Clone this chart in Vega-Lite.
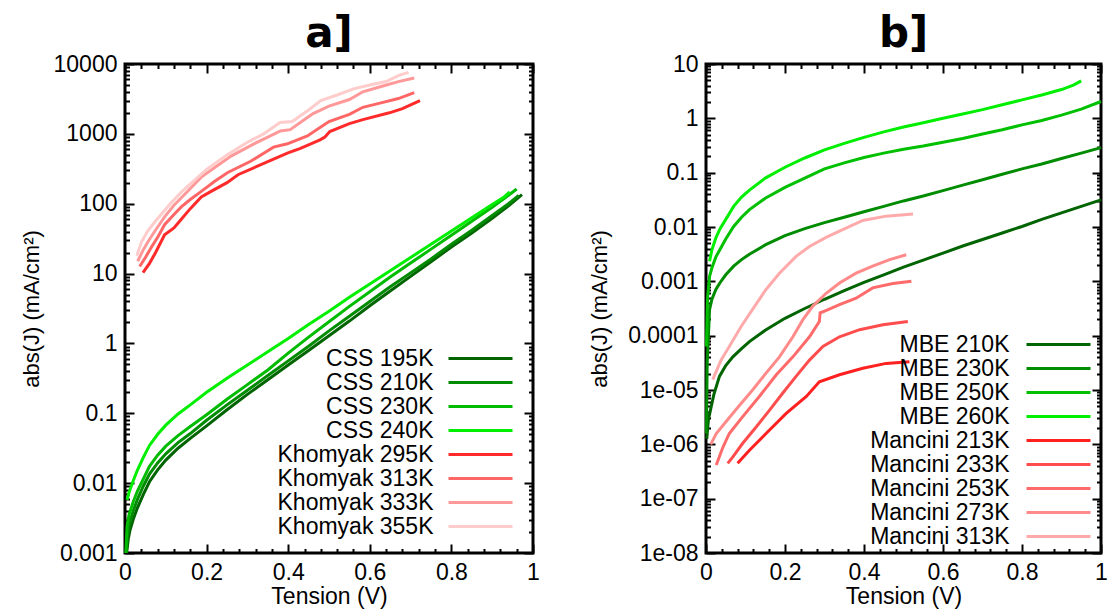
{
  "$schema": "https://vega.github.io/schema/vega-lite/v6.json",
  "padding": {"left": 18, "top": 11, "right": 5, "bottom": 5},
  "spacing": 46,
  "resolve": {"scale": {"color": "independent"}, "legend": {"color": "independent"}},
  "config": {
    "font": "Liberation Sans",
    "view": {"stroke": "black", "strokeWidth": 3},
    "axis": {"grid": false, "domain": false, "labelFont": "Liberation Sans", "labelFontSize": 23, "labelColor": "black", "titleFont": "Liberation Sans", "titleFontSize": 23, "titleFontWeight": "normal", "titleColor": "black", "tickColor": "black", "tickWidth": 2, "labelFlush": false, "labelOverlap": false},
    "title": {"font": "DejaVu Sans", "fontSize": 42, "fontWeight": "bold", "color": "black", "anchor": "middle", "frame": "group", "offset": -3}
  },
  "datasets": {
    "left": [
      {"s":"CSS 195K","v":0.004,"j":0.001},{"s":"CSS 195K","v":0.008,"j":0.001585},{"s":"CSS 195K","v":0.012,"j":0.002089},{"s":"CSS 195K","v":0.02,"j":0.00302},{"s":"CSS 195K","v":0.03,"j":0.004365},{"s":"CSS 195K","v":0.045,"j":0.006918},{"s":"CSS 195K","v":0.06,"j":0.01047},{"s":"CSS 195K","v":0.08,"j":0.01549},{"s":"CSS 195K","v":0.1,"j":0.02138},{"s":"CSS 195K","v":0.13,"j":0.03162},{"s":"CSS 195K","v":0.16,"j":0.04365},{"s":"CSS 195K","v":0.2,"j":0.06607},{"s":"CSS 195K","v":0.25,"j":0.1122},{"s":"CSS 195K","v":0.3,"j":0.1862},{"s":"CSS 195K","v":0.35,"j":0.302},{"s":"CSS 195K","v":0.4,"j":0.4898},{"s":"CSS 195K","v":0.45,"j":0.7943},{"s":"CSS 195K","v":0.5,"j":1.288},{"s":"CSS 195K","v":0.55,"j":2.089},{"s":"CSS 195K","v":0.6,"j":3.467},{"s":"CSS 195K","v":0.65,"j":5.623},{"s":"CSS 195K","v":0.7,"j":9.12},{"s":"CSS 195K","v":0.75,"j":14.79},{"s":"CSS 195K","v":0.8,"j":23.99},{"s":"CSS 195K","v":0.85,"j":38.02},{"s":"CSS 195K","v":0.9,"j":61.66},{"s":"CSS 195K","v":0.94,"j":93.33},{"s":"CSS 195K","v":0.973,"j":134.9},
      {"s":"CSS 210K","v":0.003,"j":0.001},{"s":"CSS 210K","v":0.006,"j":0.001778},{"s":"CSS 210K","v":0.01,"j":0.002512},{"s":"CSS 210K","v":0.02,"j":0.003981},{"s":"CSS 210K","v":0.03,"j":0.005754},{"s":"CSS 210K","v":0.045,"j":0.00912},{"s":"CSS 210K","v":0.06,"j":0.01349},{"s":"CSS 210K","v":0.08,"j":0.0195},{"s":"CSS 210K","v":0.1,"j":0.0263},{"s":"CSS 210K","v":0.13,"j":0.03802},{"s":"CSS 210K","v":0.16,"j":0.05129},{"s":"CSS 210K","v":0.2,"j":0.07943},{"s":"CSS 210K","v":0.25,"j":0.1318},{"s":"CSS 210K","v":0.3,"j":0.2138},{"s":"CSS 210K","v":0.35,"j":0.3467},{"s":"CSS 210K","v":0.4,"j":0.5623},{"s":"CSS 210K","v":0.45,"j":0.912},{"s":"CSS 210K","v":0.5,"j":1.514},{"s":"CSS 210K","v":0.55,"j":2.455},{"s":"CSS 210K","v":0.6,"j":3.981},{"s":"CSS 210K","v":0.65,"j":6.457},{"s":"CSS 210K","v":0.7,"j":10.23},{"s":"CSS 210K","v":0.75,"j":16.22},{"s":"CSS 210K","v":0.8,"j":26.3},{"s":"CSS 210K","v":0.85,"j":41.69},{"s":"CSS 210K","v":0.9,"j":67.61},{"s":"CSS 210K","v":0.94,"j":100},{"s":"CSS 210K","v":0.965,"j":131.8},
      {"s":"CSS 230K","v":0.002,"j":0.001},{"s":"CSS 230K","v":0.005,"j":0.0024},{"s":"CSS 230K","v":0.01,"j":0.003548},{"s":"CSS 230K","v":0.02,"j":0.00537},{"s":"CSS 230K","v":0.03,"j":0.007586},{"s":"CSS 230K","v":0.045,"j":0.01148},{"s":"CSS 230K","v":0.06,"j":0.01738},{"s":"CSS 230K","v":0.08,"j":0.02512},{"s":"CSS 230K","v":0.1,"j":0.03388},{"s":"CSS 230K","v":0.13,"j":0.04786},{"s":"CSS 230K","v":0.16,"j":0.06457},{"s":"CSS 230K","v":0.2,"j":0.0955},{"s":"CSS 230K","v":0.25,"j":0.1585},{"s":"CSS 230K","v":0.3,"j":0.257},{"s":"CSS 230K","v":0.35,"j":0.4169},{"s":"CSS 230K","v":0.4,"j":0.7244},{"s":"CSS 230K","v":0.45,"j":1.23},{"s":"CSS 230K","v":0.5,"j":2.042},{"s":"CSS 230K","v":0.55,"j":3.388},{"s":"CSS 230K","v":0.6,"j":5.495},{"s":"CSS 230K","v":0.65,"j":8.913},{"s":"CSS 230K","v":0.7,"j":14.13},{"s":"CSS 230K","v":0.75,"j":22.39},{"s":"CSS 230K","v":0.8,"j":35.48},{"s":"CSS 230K","v":0.85,"j":56.23},{"s":"CSS 230K","v":0.9,"j":89.13},{"s":"CSS 230K","v":0.94,"j":131.8},{"s":"CSS 230K","v":0.96,"j":162.2},
      {"s":"CSS 240K","v":0.005,"j":0.00575},{"s":"CSS 240K","v":0.01,"j":0.00741},{"s":"CSS 240K","v":0.02,"j":0.01072},{"s":"CSS 240K","v":0.03,"j":0.01514},{"s":"CSS 240K","v":0.045,"j":0.02344},{"s":"CSS 240K","v":0.06,"j":0.03467},{"s":"CSS 240K","v":0.08,"j":0.05012},{"s":"CSS 240K","v":0.1,"j":0.06761},{"s":"CSS 240K","v":0.13,"j":0.09772},{"s":"CSS 240K","v":0.16,"j":0.1318},{"s":"CSS 240K","v":0.2,"j":0.1995},{"s":"CSS 240K","v":0.25,"j":0.3162},{"s":"CSS 240K","v":0.3,"j":0.4898},{"s":"CSS 240K","v":0.35,"j":0.7586},{"s":"CSS 240K","v":0.4,"j":1.175},{"s":"CSS 240K","v":0.45,"j":1.862},{"s":"CSS 240K","v":0.5,"j":2.884},{"s":"CSS 240K","v":0.55,"j":4.571},{"s":"CSS 240K","v":0.6,"j":7.079},{"s":"CSS 240K","v":0.65,"j":10.96},{"s":"CSS 240K","v":0.7,"j":16.98},{"s":"CSS 240K","v":0.75,"j":26.3},{"s":"CSS 240K","v":0.8,"j":40.74},{"s":"CSS 240K","v":0.85,"j":63.1},{"s":"CSS 240K","v":0.9,"j":97.72},{"s":"CSS 240K","v":0.93,"j":125.9},{"s":"CSS 240K","v":0.943,"j":147.9},
      {"s":"Khomyak 295K","v":0.044,"j":10.3},{"s":"Khomyak 295K","v":0.06,"j":14},{"s":"Khomyak 295K","v":0.075,"j":20},{"s":"Khomyak 295K","v":0.097,"j":36},{"s":"Khomyak 295K","v":0.12,"j":45},{"s":"Khomyak 295K","v":0.138,"j":60},{"s":"Khomyak 295K","v":0.16,"j":85},{"s":"Khomyak 295K","v":0.187,"j":125},{"s":"Khomyak 295K","v":0.211,"j":150},{"s":"Khomyak 295K","v":0.25,"j":200},{"s":"Khomyak 295K","v":0.277,"j":260},{"s":"Khomyak 295K","v":0.35,"j":400},{"s":"Khomyak 295K","v":0.398,"j":530},{"s":"Khomyak 295K","v":0.43,"j":620},{"s":"Khomyak 295K","v":0.478,"j":820},{"s":"Khomyak 295K","v":0.49,"j":900},{"s":"Khomyak 295K","v":0.502,"j":1080},{"s":"Khomyak 295K","v":0.55,"j":1400},{"s":"Khomyak 295K","v":0.583,"j":1600},{"s":"Khomyak 295K","v":0.648,"j":2000},{"s":"Khomyak 295K","v":0.68,"j":2300},{"s":"Khomyak 295K","v":0.723,"j":3000},
      {"s":"Khomyak 313K","v":0.036,"j":12.6},{"s":"Khomyak 313K","v":0.05,"j":17},{"s":"Khomyak 313K","v":0.065,"j":24},{"s":"Khomyak 313K","v":0.08,"j":33},{"s":"Khomyak 313K","v":0.097,"j":50},{"s":"Khomyak 313K","v":0.12,"j":70},{"s":"Khomyak 313K","v":0.138,"j":90},{"s":"Khomyak 313K","v":0.16,"j":115},{"s":"Khomyak 313K","v":0.187,"j":150},{"s":"Khomyak 313K","v":0.22,"j":210},{"s":"Khomyak 313K","v":0.252,"j":280},{"s":"Khomyak 313K","v":0.308,"j":405},{"s":"Khomyak 313K","v":0.364,"j":645},{"s":"Khomyak 313K","v":0.398,"j":720},{"s":"Khomyak 313K","v":0.447,"j":935},{"s":"Khomyak 313K","v":0.5,"j":1500},{"s":"Khomyak 313K","v":0.55,"j":1900},{"s":"Khomyak 313K","v":0.583,"j":2400},{"s":"Khomyak 313K","v":0.63,"j":2800},{"s":"Khomyak 313K","v":0.67,"j":3200},{"s":"Khomyak 313K","v":0.709,"j":3900},
      {"s":"Khomyak 333K","v":0.031,"j":15},{"s":"Khomyak 333K","v":0.045,"j":22},{"s":"Khomyak 333K","v":0.057,"j":29},{"s":"Khomyak 333K","v":0.075,"j":42},{"s":"Khomyak 333K","v":0.097,"j":65},{"s":"Khomyak 333K","v":0.12,"j":95},{"s":"Khomyak 333K","v":0.14,"j":125},{"s":"Khomyak 333K","v":0.187,"j":240},{"s":"Khomyak 333K","v":0.22,"j":330},{"s":"Khomyak 333K","v":0.26,"j":480},{"s":"Khomyak 333K","v":0.316,"j":720},{"s":"Khomyak 333K","v":0.35,"j":900},{"s":"Khomyak 333K","v":0.381,"j":1100},{"s":"Khomyak 333K","v":0.405,"j":1150},{"s":"Khomyak 333K","v":0.44,"j":1600},{"s":"Khomyak 333K","v":0.461,"j":1950},{"s":"Khomyak 333K","v":0.5,"j":2500},{"s":"Khomyak 333K","v":0.55,"j":3100},{"s":"Khomyak 333K","v":0.583,"j":4000},{"s":"Khomyak 333K","v":0.63,"j":4800},{"s":"Khomyak 333K","v":0.67,"j":5600},{"s":"Khomyak 333K","v":0.709,"j":6300},
      {"s":"Khomyak 355K","v":0.029,"j":18},{"s":"Khomyak 355K","v":0.04,"j":28},{"s":"Khomyak 355K","v":0.055,"j":40},{"s":"Khomyak 355K","v":0.07,"j":52},{"s":"Khomyak 355K","v":0.09,"j":72},{"s":"Khomyak 355K","v":0.11,"j":98},{"s":"Khomyak 355K","v":0.14,"j":150},{"s":"Khomyak 355K","v":0.17,"j":215},{"s":"Khomyak 355K","v":0.2,"j":310},{"s":"Khomyak 355K","v":0.25,"j":500},{"s":"Khomyak 355K","v":0.3,"j":760},{"s":"Khomyak 355K","v":0.34,"j":1000},{"s":"Khomyak 355K","v":0.38,"j":1450},{"s":"Khomyak 355K","v":0.41,"j":1500},{"s":"Khomyak 355K","v":0.45,"j":2200},{"s":"Khomyak 355K","v":0.48,"j":3000},{"s":"Khomyak 355K","v":0.52,"j":3600},{"s":"Khomyak 355K","v":0.56,"j":4400},{"s":"Khomyak 355K","v":0.6,"j":5000},{"s":"Khomyak 355K","v":0.64,"j":5600},{"s":"Khomyak 355K","v":0.67,"j":6800},{"s":"Khomyak 355K","v":0.695,"j":7600}
    ],
    "right": [
      {"s":"MBE 210K","v":0.002,"j":1.259e-6},{"s":"MBE 210K","v":0.006,"j":2.818e-6},{"s":"MBE 210K","v":0.013,"j":4.898e-6},{"s":"MBE 210K","v":0.02,"j":8.318e-6},{"s":"MBE 210K","v":0.034,"j":1.778e-5},{"s":"MBE 210K","v":0.05,"j":2.818e-5},{"s":"MBE 210K","v":0.068,"j":4.074e-5},{"s":"MBE 210K","v":0.09,"j":5.754e-5},{"s":"MBE 210K","v":0.11,"j":7.762e-5},{"s":"MBE 210K","v":0.15,"j":1.259e-4},{"s":"MBE 210K","v":0.2,"j":2.089e-4},{"s":"MBE 210K","v":0.25,"j":3.162e-4},{"s":"MBE 210K","v":0.3,"j":4.677e-4},{"s":"MBE 210K","v":0.35,"j":6.761e-4},{"s":"MBE 210K","v":0.4,"j":9.55e-4},{"s":"MBE 210K","v":0.45,"j":0.001318},{"s":"MBE 210K","v":0.5,"j":0.00182},{"s":"MBE 210K","v":0.55,"j":0.002455},{"s":"MBE 210K","v":0.6,"j":0.003311},{"s":"MBE 210K","v":0.65,"j":0.004467},{"s":"MBE 210K","v":0.7,"j":0.005888},{"s":"MBE 210K","v":0.75,"j":0.007762},{"s":"MBE 210K","v":0.8,"j":0.01023},{"s":"MBE 210K","v":0.85,"j":0.0138},{"s":"MBE 210K","v":0.9,"j":0.0182},{"s":"MBE 210K","v":0.95,"j":0.02399},{"s":"MBE 210K","v":1.0,"j":0.03162},
      {"s":"MBE 230K","v":0.001,"j":1.585e-6},{"s":"MBE 230K","v":0.003,"j":3.162e-5},{"s":"MBE 230K","v":0.009,"j":3.02e-4},{"s":"MBE 230K","v":0.015,"j":4.677e-4},{"s":"MBE 230K","v":0.025,"j":7.079e-4},{"s":"MBE 230K","v":0.035,"j":9.333e-4},{"s":"MBE 230K","v":0.05,"j":0.001318},{"s":"MBE 230K","v":0.07,"j":0.001905},{"s":"MBE 230K","v":0.09,"j":0.002512},{"s":"MBE 230K","v":0.11,"j":0.003162},{"s":"MBE 230K","v":0.15,"j":0.004677},{"s":"MBE 230K","v":0.2,"j":0.006918},{"s":"MBE 230K","v":0.25,"j":0.009333},{"s":"MBE 230K","v":0.3,"j":0.01202},{"s":"MBE 230K","v":0.35,"j":0.01514},{"s":"MBE 230K","v":0.4,"j":0.01905},{"s":"MBE 230K","v":0.45,"j":0.02399},{"s":"MBE 230K","v":0.5,"j":0.0302},{"s":"MBE 230K","v":0.55,"j":0.03715},{"s":"MBE 230K","v":0.6,"j":0.04677},{"s":"MBE 230K","v":0.65,"j":0.05888},{"s":"MBE 230K","v":0.7,"j":0.07413},{"s":"MBE 230K","v":0.75,"j":0.09333},{"s":"MBE 230K","v":0.8,"j":0.1175},{"s":"MBE 230K","v":0.85,"j":0.1445},{"s":"MBE 230K","v":0.9,"j":0.182},{"s":"MBE 230K","v":0.95,"j":0.2291},{"s":"MBE 230K","v":1.0,"j":0.2884},
      {"s":"MBE 250K","v":0.001,"j":6.31e-5},{"s":"MBE 250K","v":0.004,"j":5.01e-4},{"s":"MBE 250K","v":0.009,"j":0.00123},{"s":"MBE 250K","v":0.015,"j":0.001778},{"s":"MBE 250K","v":0.025,"j":0.002818},{"s":"MBE 250K","v":0.035,"j":0.003802},{"s":"MBE 250K","v":0.05,"j":0.006026},{"s":"MBE 250K","v":0.07,"j":0.01023},{"s":"MBE 250K","v":0.09,"j":0.01514},{"s":"MBE 250K","v":0.11,"j":0.02089},{"s":"MBE 250K","v":0.15,"j":0.03388},{"s":"MBE 250K","v":0.2,"j":0.0537},{"s":"MBE 250K","v":0.25,"j":0.07943},{"s":"MBE 250K","v":0.3,"j":0.1175},{"s":"MBE 250K","v":0.35,"j":0.1514},{"s":"MBE 250K","v":0.4,"j":0.1905},{"s":"MBE 250K","v":0.45,"j":0.2291},{"s":"MBE 250K","v":0.5,"j":0.2692},{"s":"MBE 250K","v":0.55,"j":0.309},{"s":"MBE 250K","v":0.6,"j":0.3631},{"s":"MBE 250K","v":0.65,"j":0.4266},{"s":"MBE 250K","v":0.7,"j":0.5129},{"s":"MBE 250K","v":0.75,"j":0.6166},{"s":"MBE 250K","v":0.8,"j":0.7586},{"s":"MBE 250K","v":0.85,"j":0.912},{"s":"MBE 250K","v":0.9,"j":1.148},{"s":"MBE 250K","v":0.95,"j":1.479},{"s":"MBE 250K","v":1.0,"j":2.042},
      {"s":"MBE 260K","v":0.009,"j":0.002344},{"s":"MBE 260K","v":0.015,"j":0.003802},{"s":"MBE 260K","v":0.025,"j":0.00631},{"s":"MBE 260K","v":0.035,"j":0.00912},{"s":"MBE 260K","v":0.05,"j":0.0138},{"s":"MBE 260K","v":0.07,"j":0.02399},{"s":"MBE 260K","v":0.09,"j":0.03548},{"s":"MBE 260K","v":0.11,"j":0.04786},{"s":"MBE 260K","v":0.15,"j":0.07943},{"s":"MBE 260K","v":0.2,"j":0.1259},{"s":"MBE 260K","v":0.25,"j":0.1862},{"s":"MBE 260K","v":0.3,"j":0.263},{"s":"MBE 260K","v":0.35,"j":0.3467},{"s":"MBE 260K","v":0.4,"j":0.4467},{"s":"MBE 260K","v":0.45,"j":0.5623},{"s":"MBE 260K","v":0.5,"j":0.6918},{"s":"MBE 260K","v":0.55,"j":0.8318},{"s":"MBE 260K","v":0.6,"j":1.0},{"s":"MBE 260K","v":0.65,"j":1.202},{"s":"MBE 260K","v":0.7,"j":1.445},{"s":"MBE 260K","v":0.75,"j":1.778},{"s":"MBE 260K","v":0.8,"j":2.188},{"s":"MBE 260K","v":0.85,"j":2.692},{"s":"MBE 260K","v":0.9,"j":3.388},{"s":"MBE 260K","v":0.93,"j":4.074},{"s":"MBE 260K","v":0.95,"j":4.898},
      {"s":"Mancini 213K","v":0.08,"j":4.467e-7},{"s":"Mancini 213K","v":0.11,"j":7.762e-7},{"s":"Mancini 213K","v":0.152,"j":1.585e-6},{"s":"Mancini 213K","v":0.203,"j":3.715e-6},{"s":"Mancini 213K","v":0.254,"j":7.586e-6},{"s":"Mancini 213K","v":0.287,"j":1.413e-5},{"s":"Mancini 213K","v":0.338,"j":1.905e-5},{"s":"Mancini 213K","v":0.397,"j":2.512e-5},{"s":"Mancini 213K","v":0.456,"j":3.09e-5},{"s":"Mancini 213K","v":0.515,"j":3.311e-5},
      {"s":"Mancini 233K","v":0.055,"j":4.467e-7},{"s":"Mancini 233K","v":0.068,"j":5.888e-7},{"s":"Mancini 233K","v":0.093,"j":1.047e-6},{"s":"Mancini 233K","v":0.127,"j":2.089e-6},{"s":"Mancini 233K","v":0.161,"j":4.266e-6},{"s":"Mancini 233K","v":0.194,"j":8.71e-6},{"s":"Mancini 233K","v":0.228,"j":1.778e-5},{"s":"Mancini 233K","v":0.262,"j":3.548e-5},{"s":"Mancini 233K","v":0.296,"j":6.31e-5},{"s":"Mancini 233K","v":0.338,"j":9.55e-5},{"s":"Mancini 233K","v":0.389,"j":1.288e-4},{"s":"Mancini 233K","v":0.448,"j":1.585e-4},{"s":"Mancini 233K","v":0.511,"j":1.82e-4},
      {"s":"Mancini 253K","v":0.026,"j":4.169e-7},{"s":"Mancini 253K","v":0.043,"j":8.913e-7},{"s":"Mancini 253K","v":0.059,"j":1.585e-6},{"s":"Mancini 253K","v":0.093,"j":3.236e-6},{"s":"Mancini 253K","v":0.135,"j":7.586e-6},{"s":"Mancini 253K","v":0.178,"j":1.905e-5},{"s":"Mancini 253K","v":0.22,"j":4.074e-5},{"s":"Mancini 253K","v":0.262,"j":9.55e-5},{"s":"Mancini 253K","v":0.287,"j":1.82e-4},{"s":"Mancini 253K","v":0.289,"j":2.63e-4},{"s":"Mancini 253K","v":0.296,"j":2.754e-4},{"s":"Mancini 253K","v":0.338,"j":3.715e-4},{"s":"Mancini 253K","v":0.38,"j":4.898e-4},{"s":"Mancini 253K","v":0.422,"j":7.586e-4},{"s":"Mancini 253K","v":0.473,"j":9.12e-4},{"s":"Mancini 253K","v":0.52,"j":0.001},
      {"s":"Mancini 273K","v":0.012,"j":1e-6},{"s":"Mancini 273K","v":0.026,"j":1.585e-6},{"s":"Mancini 273K","v":0.051,"j":2.63e-6},{"s":"Mancini 273K","v":0.085,"j":5.248e-6},{"s":"Mancini 273K","v":0.118,"j":1e-5},{"s":"Mancini 273K","v":0.152,"j":2.042e-5},{"s":"Mancini 273K","v":0.186,"j":4.074e-5},{"s":"Mancini 273K","v":0.22,"j":9.55e-5},{"s":"Mancini 273K","v":0.245,"j":1.95e-4},{"s":"Mancini 273K","v":0.27,"j":3.467e-4},{"s":"Mancini 273K","v":0.304,"j":6.026e-4},{"s":"Mancini 273K","v":0.338,"j":9.333e-4},{"s":"Mancini 273K","v":0.38,"j":0.001413},{"s":"Mancini 273K","v":0.422,"j":0.001905},{"s":"Mancini 273K","v":0.465,"j":0.002512},{"s":"Mancini 273K","v":0.507,"j":0.00309},
      {"s":"Mancini 313K","v":0.017,"j":1.549e-5},{"s":"Mancini 313K","v":0.038,"j":3.548e-5},{"s":"Mancini 313K","v":0.059,"j":6.31e-5},{"s":"Mancini 313K","v":0.089,"j":1.479e-4},{"s":"Mancini 313K","v":0.123,"j":3.467e-4},{"s":"Mancini 313K","v":0.152,"j":7.079e-4},{"s":"Mancini 313K","v":0.186,"j":0.001413},{"s":"Mancini 313K","v":0.228,"j":0.002884},{"s":"Mancini 313K","v":0.262,"j":0.004365},{"s":"Mancini 313K","v":0.304,"j":0.006457},{"s":"Mancini 313K","v":0.346,"j":0.008913},{"s":"Mancini 313K","v":0.397,"j":0.01318},{"s":"Mancini 313K","v":0.456,"j":0.01585},{"s":"Mancini 313K","v":0.524,"j":0.01738}
    ]
  },
  "hconcat": [
    {
      "width": 408, "height": 489,
      "title": {"text": "a]"},
      "data": {"name": "left"},
      "resolve": {"axis": {"x": "independent", "y": "independent"}},
      "layer": [
        {
          "mark": {"type": "line", "strokeWidth": 3},
          "encoding": {
            "x": {"field": "v", "type": "quantitative", "scale": {"domain": [0, 1], "nice": false, "zero": false}, "axis": {"orient": "bottom", "values": [0, 0.2, 0.4, 0.6, 0.8, 1], "ticks": false, "labelPadding": 8, "labelExpr": "format(datum.value, '')", "title": "Tension (V)", "titlePadding": 1}},
            "y": {"field": "j", "type": "quantitative", "scale": {"type": "log", "domain": [0.001, 10000], "nice": false}, "axis": {"orient": "left", "values": [0.001, 0.01, 0.1, 1, 10, 100, 1000, 10000], "ticks": false, "labelPadding": 8, "labelExpr": "format(datum.value, '')", "title": "abs(J) (mA/cm²)", "titleFontSize": 22, "titlePadding": 10}},
            "color": {"field": "s", "type": "nominal",
              "scale": {"domain": ["CSS 195K", "CSS 210K", "CSS 230K", "CSS 240K", "Khomyak 295K", "Khomyak 313K", "Khomyak 333K", "Khomyak 355K"], "range": ["#006400", "#008c00", "#00bb00", "#00ee00", "#ff2a2a", "#ff6666", "#ff9999", "#ffcccc"]},
              "legend": {"title": null, "orient": "bottom-right", "offset": 14, "padding": 0, "symbolType": "M-3.2,0H3.2", "symbolSize": 400, "symbolStrokeWidth": 3, "rowPadding": 0, "labelAlign": "right", "labelOffset": -58.5, "labelLimit": 400, "labelFont": "Liberation Sans", "labelFontSize": 23, "labelColor": "black"}}
          }
        },
        {
          "mark": {"type": "line", "opacity": 0},
          "encoding": {
            "x": {"field": "v", "type": "quantitative", "scale": {"domain": [0, 1], "nice": false, "zero": false}, "axis": {"orient": "bottom", "values": [0, 0.2, 0.4, 0.6, 0.8, 1], "labels": false, "tickSize": -9, "title": null}},
            "y": {"field": "j", "type": "quantitative", "scale": {"type": "log", "domain": [0.001, 10000], "nice": false}, "axis": {"orient": "left", "values": [0.001, 0.01, 0.1, 1, 10, 100, 1000, 10000], "labels": false, "tickSize": -9, "title": null}}
          }
        },
        {
          "mark": {"type": "line", "opacity": 0},
          "encoding": {
            "x": {"field": "v", "type": "quantitative", "scale": {"domain": [0, 1], "nice": false, "zero": false}, "axis": {"orient": "top", "values": [0, 0.2, 0.4, 0.6, 0.8, 1], "labels": false, "tickSize": -9, "title": null}},
            "y": {"field": "j", "type": "quantitative", "scale": {"type": "log", "domain": [0.001, 10000], "nice": false}, "axis": {"orient": "right", "values": [0.001, 0.01, 0.1, 1, 10, 100, 1000, 10000], "labels": false, "tickSize": -9, "title": null}}
          }
        },
        {
          "mark": {"type": "line", "opacity": 0},
          "encoding": {
            "x": {"field": "v", "type": "quantitative", "scale": {"domain": [0, 1], "nice": false, "zero": false}, "axis": {"orient": "bottom", "values": [0.04, 0.08, 0.12, 0.16, 0.24, 0.28, 0.32, 0.36, 0.44, 0.48, 0.52, 0.56, 0.64, 0.68, 0.72, 0.76, 0.84, 0.88, 0.92, 0.96], "labels": false, "tickSize": -4.5, "title": null}},
            "y": {"field": "j", "type": "quantitative", "scale": {"type": "log", "domain": [0.001, 10000], "nice": false}, "axis": {"orient": "left", "values": [0.002, 0.003, 0.004, 0.005, 0.006, 0.007, 0.008, 0.009, 0.02, 0.03, 0.04, 0.05, 0.06, 0.07, 0.08, 0.09, 0.2, 0.3, 0.4, 0.5, 0.6, 0.7, 0.8, 0.9, 2, 3, 4, 5, 6, 7, 8, 9, 20, 30, 40, 50, 60, 70, 80, 90, 200, 300, 400, 500, 600, 700, 800, 900, 2000, 3000, 4000, 5000, 6000, 7000, 8000, 9000], "labels": false, "tickSize": -4.5, "title": null}}
          }
        },
        {
          "mark": {"type": "line", "opacity": 0},
          "encoding": {
            "x": {"field": "v", "type": "quantitative", "scale": {"domain": [0, 1], "nice": false, "zero": false}, "axis": {"orient": "top", "values": [0.04, 0.08, 0.12, 0.16, 0.24, 0.28, 0.32, 0.36, 0.44, 0.48, 0.52, 0.56, 0.64, 0.68, 0.72, 0.76, 0.84, 0.88, 0.92, 0.96], "labels": false, "tickSize": -4.5, "title": null}},
            "y": {"field": "j", "type": "quantitative", "scale": {"type": "log", "domain": [0.001, 10000], "nice": false}, "axis": {"orient": "right", "values": [0.002, 0.003, 0.004, 0.005, 0.006, 0.007, 0.008, 0.009, 0.02, 0.03, 0.04, 0.05, 0.06, 0.07, 0.08, 0.09, 0.2, 0.3, 0.4, 0.5, 0.6, 0.7, 0.8, 0.9, 2, 3, 4, 5, 6, 7, 8, 9, 20, 30, 40, 50, 60, 70, 80, 90, 200, 300, 400, 500, 600, 700, 800, 900, 2000, 3000, 4000, 5000, 6000, 7000, 8000, 9000], "labels": false, "tickSize": -4.5, "title": null}}
          }
        }
      ]
    },
    {
      "width": 395, "height": 489,
      "title": {"text": "b]"},
      "data": {"name": "right"},
      "resolve": {"axis": {"x": "independent", "y": "independent"}},
      "layer": [
        {
          "mark": {"type": "line", "strokeWidth": 3},
          "encoding": {
            "x": {"field": "v", "type": "quantitative", "scale": {"domain": [0, 1], "nice": false, "zero": false}, "axis": {"orient": "bottom", "values": [0, 0.2, 0.4, 0.6, 0.8, 1], "ticks": false, "labelPadding": 8, "labelExpr": "format(datum.value, '')", "title": "Tension (V)", "titlePadding": 1}},
            "y": {"field": "j", "type": "quantitative", "scale": {"type": "log", "domain": [1e-8, 10], "nice": false}, "axis": {"orient": "left", "values": [1e-8, 1e-7, 1e-6, 1e-5, 0.0001, 0.001, 0.01, 0.1, 1, 10], "ticks": false, "labelPadding": 8, "labelExpr": "datum.value < 0.00005 ? replace(format(datum.value, '.0e'), 'e-', 'e-0') : format(datum.value, '')", "title": "abs(J) (mA/cm²)", "titleFontSize": 22, "titlePadding": 16}},
            "color": {"field": "s", "type": "nominal",
              "scale": {"domain": ["MBE 210K", "MBE 230K", "MBE 250K", "MBE 260K", "Mancini 213K", "Mancini 233K", "Mancini 253K", "Mancini 273K", "Mancini 313K"], "range": ["#006400", "#008c00", "#00c000", "#00ee00", "#ff2020", "#ff4c4c", "#ff6b6b", "#ff8a8a", "#ffaaaa"]},
              "legend": {"title": null, "orient": "bottom-right", "offset": 4, "padding": 0, "symbolType": "M-3.2,0H3.2", "symbolSize": 400, "symbolStrokeWidth": 3, "rowPadding": 0, "labelAlign": "right", "labelOffset": -60.5, "labelLimit": 400, "labelFont": "Liberation Sans", "labelFontSize": 23, "labelColor": "black"}}
          }
        },
        {
          "mark": {"type": "line", "opacity": 0},
          "encoding": {
            "x": {"field": "v", "type": "quantitative", "scale": {"domain": [0, 1], "nice": false, "zero": false}, "axis": {"orient": "bottom", "values": [0, 0.2, 0.4, 0.6, 0.8, 1], "labels": false, "tickSize": -9, "title": null}},
            "y": {"field": "j", "type": "quantitative", "scale": {"type": "log", "domain": [1e-8, 10], "nice": false}, "axis": {"orient": "left", "values": [1e-8, 1e-7, 1e-6, 1e-5, 0.0001, 0.001, 0.01, 0.1, 1, 10], "labels": false, "tickSize": -9, "title": null}}
          }
        },
        {
          "mark": {"type": "line", "opacity": 0},
          "encoding": {
            "x": {"field": "v", "type": "quantitative", "scale": {"domain": [0, 1], "nice": false, "zero": false}, "axis": {"orient": "top", "values": [0, 0.2, 0.4, 0.6, 0.8, 1], "labels": false, "tickSize": -9, "title": null}},
            "y": {"field": "j", "type": "quantitative", "scale": {"type": "log", "domain": [1e-8, 10], "nice": false}, "axis": {"orient": "right", "values": [1e-8, 1e-7, 1e-6, 1e-5, 0.0001, 0.001, 0.01, 0.1, 1, 10], "labels": false, "tickSize": -9, "title": null}}
          }
        },
        {
          "mark": {"type": "line", "opacity": 0},
          "encoding": {
            "x": {"field": "v", "type": "quantitative", "scale": {"domain": [0, 1], "nice": false, "zero": false}, "axis": {"orient": "bottom", "values": [0.04, 0.08, 0.12, 0.16, 0.24, 0.28, 0.32, 0.36, 0.44, 0.48, 0.52, 0.56, 0.64, 0.68, 0.72, 0.76, 0.84, 0.88, 0.92, 0.96], "labels": false, "tickSize": -4.5, "title": null}},
            "y": {"field": "j", "type": "quantitative", "scale": {"type": "log", "domain": [1e-8, 10], "nice": false}, "axis": {"orient": "left", "values": [2e-8, 3e-8, 4e-8, 5e-8, 6e-8, 7e-8, 8e-8, 9e-8, 2e-7, 3e-7, 4e-7, 5e-7, 6e-7, 7e-7, 8e-7, 9e-7, 2e-6, 3e-6, 4e-6, 5e-6, 6e-6, 7e-6, 8e-6, 9e-6, 2e-5, 3e-5, 4e-5, 5e-5, 6e-5, 7e-5, 8e-5, 9e-5, 0.0002, 0.0003, 0.0004, 0.0005, 0.0006, 0.0007, 0.0008, 0.0009, 0.002, 0.003, 0.004, 0.005, 0.006, 0.007, 0.008, 0.009, 0.02, 0.03, 0.04, 0.05, 0.06, 0.07, 0.08, 0.09, 0.2, 0.3, 0.4, 0.5, 0.6, 0.7, 0.8, 0.9, 2, 3, 4, 5, 6, 7, 8, 9], "labels": false, "tickSize": -4.5, "title": null}}
          }
        },
        {
          "mark": {"type": "line", "opacity": 0},
          "encoding": {
            "x": {"field": "v", "type": "quantitative", "scale": {"domain": [0, 1], "nice": false, "zero": false}, "axis": {"orient": "top", "values": [0.04, 0.08, 0.12, 0.16, 0.24, 0.28, 0.32, 0.36, 0.44, 0.48, 0.52, 0.56, 0.64, 0.68, 0.72, 0.76, 0.84, 0.88, 0.92, 0.96], "labels": false, "tickSize": -4.5, "title": null}},
            "y": {"field": "j", "type": "quantitative", "scale": {"type": "log", "domain": [1e-8, 10], "nice": false}, "axis": {"orient": "right", "values": [2e-8, 3e-8, 4e-8, 5e-8, 6e-8, 7e-8, 8e-8, 9e-8, 2e-7, 3e-7, 4e-7, 5e-7, 6e-7, 7e-7, 8e-7, 9e-7, 2e-6, 3e-6, 4e-6, 5e-6, 6e-6, 7e-6, 8e-6, 9e-6, 2e-5, 3e-5, 4e-5, 5e-5, 6e-5, 7e-5, 8e-5, 9e-5, 0.0002, 0.0003, 0.0004, 0.0005, 0.0006, 0.0007, 0.0008, 0.0009, 0.002, 0.003, 0.004, 0.005, 0.006, 0.007, 0.008, 0.009, 0.02, 0.03, 0.04, 0.05, 0.06, 0.07, 0.08, 0.09, 0.2, 0.3, 0.4, 0.5, 0.6, 0.7, 0.8, 0.9, 2, 3, 4, 5, 6, 7, 8, 9], "labels": false, "tickSize": -4.5, "title": null}}
          }
        }
      ]
    }
  ]
}
